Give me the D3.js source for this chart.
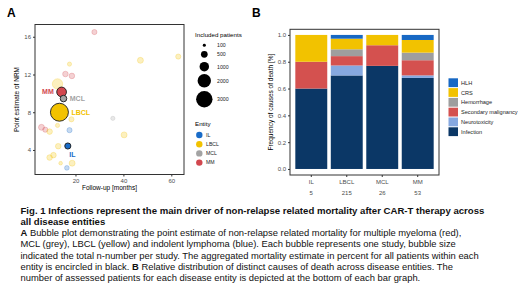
<!DOCTYPE html>
<html>
<head>
<meta charset="utf-8">
<script src="https://cdn.jsdelivr.net/npm/d3@7"></script>
<style>
  body { margin: 0; background: #fff; }
  text { font-family: "Liberation Sans", Arial, sans-serif; }
</style>
</head>
<body>
<div id="chart-area"></div>
<script>
// ---- Panel A data: one entry per study ----
const studyFollowUp = [27.9, 17.5, 47.1, 62.9, 15.8, 18.5, 12.5, 18.3, 35.6, 5.8, 7.4, 9.2, 12.5, 17.5, 40.3, 12.8, 10.8, 9.2, 13.8, 18.6, 16.4]
const studyNRM      = [16.5, 13.1, 13.5, 13.9, 12.05, 11.85, 11.0, 7.25, 7.35, 6.4, 6.15, 5.95, 6.6, 6.1, 5.6, 4.4, 3.45, 3.2, 2.6, 2.6, 2.1]
const studyPatients = [300, 200, 400, 300, 350, 350, 1200, 300, 200, 400, 300, 350, 200, 300, 400, 350, 350, 350, 150, 400, 250]
const studyEntity   = ['MM', 'LBCL', 'LBCL', 'LBCL', 'MM', 'MM', 'LBCL', 'LBCL', 'MCL', 'MM', 'MM', 'LBCL', 'LBCL', 'IL', 'LBCL', 'LBCL', 'LBCL', 'LBCL', 'LBCL', 'LBCL', 'IL']

// aggregated estimate per entity (encircled)
const aggEntity   = ['MM', 'MCL', 'LBCL', 'IL']
const aggFollowUp = [14.2, 15.0, 13.3, 16.8]
const aggNRM      = [10.15, 9.45, 8.0, 4.42]
const aggPatients = [1050, 480, 3600, 420]

const entities = ['IL', 'LBCL', 'MCL', 'MM']
const entityColors = ['#1a6cc8', '#f2c200', '#a3a3a3', '#d2474e']
const sizeLegend = [100, 500, 1000, 2000, 3000]

// ---- Panel B data: deaths by cause ----
const barEntities = ['IL', 'LBCL', 'MCL', 'MM']
const barN = [5, 215, 26, 53]
const causes = ['Infection', 'Neurotoxicity', 'Secondary malignancy', 'Hemorrhage', 'CRS', 'HLH']
const causeColors = ['#0b3766', '#86a8e0', '#d4514f', '#9e9e9e', '#f2c200', '#1768c4']
const infection   = [3, 150, 20, 36]
const neurotox    = [0, 16, 0, 1]
const secMalig    = [1, 15, 4, 6]
const hemorrhage  = [0, 11, 0, 3]
const crs         = [1, 17, 2, 5]
const hlh         = [0, 6, 0, 2]

const svg = d3.select('#chart-area').append('svg')
  .attr('width', 520)
  .attr('height', 302)
svg.append('rect').attr('width', 520).attr('height', 302).attr('fill', '#fff')

const tickGrey = '#4d4d4d'

// ================= Panel A =================
const A = { L: 35, R: 184, T: 24.5, B: 174.5 }
const gA = svg.append('g')

gA.append('text').attr('x', 7).attr('y', 17).text('A')
  .attr('font-size', '12px').attr('font-weight', 'bold')

const xA = d3.scaleLinear().domain([3.1, 65.3]).range([A.L, A.R])
const yA = d3.scaleLinear().domain([1.4, 17.3]).range([A.B, A.T])
const rA = d3.scaleSqrt().domain([0, 3000]).range([0, 8.2])
const color = d3.scaleOrdinal().domain(entities).range(entityColors)

const xAxisA = gA.append('g')
  .attr('transform', `translate(0, ${A.B})`)
  .call(d3.axisBottom(xA).tickValues([20, 40, 60]).tickSize(2).tickPadding(2))
const yAxisA = gA.append('g')
  .attr('transform', `translate(${A.L}, 0)`)
  .call(d3.axisLeft(yA).tickValues([4, 8, 12, 16]).tickSize(2).tickPadding(2))
;[xAxisA, yAxisA].forEach(ax => {
  ax.select('.domain').remove()
  ax.selectAll('line').attr('stroke', '#333')
  ax.selectAll('text').attr('fill', tickGrey).attr('font-size', '6px').attr('font-family', 'Liberation Sans, Arial, sans-serif')
})

const studies = studyFollowUp.map((d, i) => ({ x: d, y: studyNRM[i], n: studyPatients[i], e: studyEntity[i] }))
const aggs = aggEntity.map((e, i) => ({ x: aggFollowUp[i], y: aggNRM[i], n: aggPatients[i], e: e }))

gA.selectAll('circle.study').data(studies).enter().append('circle')
  .attr('class', 'study')
  .attr('cx', d => xA(d.x))
  .attr('cy', d => yA(d.y))
  .attr('r', d => rA(d.n))
  .attr('fill', d => color(d.e))
  .attr('fill-opacity', 0.25)
  .attr('stroke', d => color(d.e))
  .attr('stroke-opacity', 0.3)
  .attr('stroke-width', 0.8)

gA.selectAll('circle.agg').data(aggs).enter().append('circle')
  .attr('class', 'agg')
  .attr('cx', d => xA(d.x))
  .attr('cy', d => yA(d.y))
  .attr('r', d => rA(d.n))
  .attr('fill', d => color(d.e))
  .attr('stroke', '#1a1a1a')
  .attr('stroke-width', 0.9)

// entity labels next to the aggregated bubbles
const labelPos = {
  MM: { dx: -3, dy: 2.5, anchor: 'end', side: -1 },
  MCL: { dx: 3, dy: 2.5, anchor: 'start', side: 1 },
  LBCL: { dx: 3, dy: 2.5, anchor: 'start', side: 1 },
  IL: { dx: 1.5, dy: 11, anchor: 'start', side: 0 }
}
gA.selectAll('text.agg-label').data(aggs).enter().append('text')
  .attr('class', 'agg-label')
  .attr('x', d => xA(d.x) + labelPos[d.e].side * rA(d.n) + labelPos[d.e].dx)
  .attr('y', d => yA(d.y) + labelPos[d.e].dy)
  .attr('text-anchor', d => labelPos[d.e].anchor)
  .attr('font-size', '7px')
  .attr('font-weight', 'bold')
  .attr('fill', d => color(d.e))
  .text(d => d.e)

gA.append('rect')
  .attr('x', A.L).attr('y', A.T)
  .attr('width', A.R - A.L).attr('height', A.B - A.T)
  .attr('fill', 'none').attr('stroke', '#333').attr('stroke-width', 1)

gA.append('text')
  .attr('x', (A.L + A.R) / 2).attr('y', 190)
  .attr('text-anchor', 'middle').attr('font-size', '6.5px')
  .text('Follow-up [months]')
gA.append('text')
  .attr('transform', 'rotate(-90)')
  .attr('x', -(A.T + A.B) / 2).attr('y', 18.5)
  .attr('text-anchor', 'middle').attr('font-size', '6.5px')
  .text('Point estimate of NRM')

// size legend
const legA = gA.append('g')
legA.append('text').attr('x', 195).attr('y', 37).attr('font-size', '6.2px').text('Included patients')
const sizeYs = [45.3, 54.3, 66.7, 80.7, 99.3]
legA.selectAll('circle').data(sizeLegend).enter().append('circle')
  .attr('cx', 204.3)
  .attr('cy', (d, i) => sizeYs[i])
  .attr('r', d => rA(d))
  .attr('fill', '#000')
legA.selectAll('text.sl').data(sizeLegend).enter().append('text')
  .attr('class', 'sl')
  .attr('x', 217).attr('y', (d, i) => sizeYs[i] + 1.8)
  .attr('font-size', '5.2px').attr('fill', '#222')
  .text(d => d)

legA.append('text').attr('x', 195).attr('y', 126).attr('font-size', '6.2px').text('Entity')
legA.selectAll('circle.ent').data(entities).enter().append('circle')
  .attr('class', 'ent')
  .attr('cx', 199.3).attr('cy', (d, i) => 135 + i * 9.2)
  .attr('r', 3.2)
  .attr('fill', d => color(d))
legA.selectAll('text.ent').data(entities).enter().append('text')
  .attr('class', 'ent')
  .attr('x', 206).attr('y', (d, i) => 135 + i * 9.2 + 1.8)
  .attr('font-size', '5.2px').attr('fill', '#222')
  .text(d => d)

// ================= Panel B =================
const B = { L: 290, R: 439, T: 29.3, B: 175 }
const gB = svg.append('g')

gB.append('text').attr('x', 252).attr('y', 17).text('B')
  .attr('font-size', '12px').attr('font-weight', 'bold')

const rows = barEntities.map((e, i) => ({
  entity: e,
  Infection: infection[i],
  Neurotoxicity: neurotox[i],
  'Secondary malignancy': secMalig[i],
  Hemorrhage: hemorrhage[i],
  CRS: crs[i],
  HLH: hlh[i]
}))
const stacked = d3.stack().keys(causes).offset(d3.stackOffsetExpand)(rows)

const xB = d3.scaleBand().domain(barEntities).range([B.L, B.R])
  .paddingInner(0.1).paddingOuter(0.15)
const yB = d3.scaleLinear().domain([-0.045, 1.042]).range([B.B, B.T])
const causeColor = d3.scaleOrdinal().domain(causes).range(causeColors)

gB.selectAll('g.layer').data(stacked).enter().append('g')
  .attr('class', 'layer')
  .attr('fill', d => causeColor(d.key))
  .selectAll('rect').data(d => d).enter().append('rect')
  .attr('x', d => xB(d.data.entity))
  .attr('width', xB.bandwidth())
  .attr('y', d => yB(d[1]))
  .attr('height', d => yB(d[0]) - yB(d[1]))

const yAxisB = gB.append('g')
  .attr('transform', `translate(${B.L}, 0)`)
  .call(d3.axisLeft(yB).tickValues([0, 0.2, 0.4, 0.6, 0.8, 1.0]).tickFormat(d3.format('.1f')).tickSize(2).tickPadding(2))
const xAxisB = gB.append('g')
  .attr('transform', `translate(0, ${B.B})`)
  .call(d3.axisBottom(xB).tickSize(2).tickPadding(3))
;[xAxisB, yAxisB].forEach(ax => {
  ax.select('.domain').remove()
  ax.selectAll('line').attr('stroke', '#333')
  ax.selectAll('text').attr('fill', tickGrey).attr('font-size', '6px').attr('font-family', 'Liberation Sans, Arial, sans-serif')
})
// number of assessed patients below each bar
gB.selectAll('text.nlab').data(barEntities).enter().append('text')
  .attr('class', 'nlab')
  .attr('x', d => xB(d) + xB.bandwidth() / 2)
  .attr('y', 194.5)
  .attr('text-anchor', 'middle').attr('font-size', '6px').attr('fill', tickGrey)
  .text((d, i) => barN[i])

gB.append('rect')
  .attr('x', B.L).attr('y', B.T)
  .attr('width', B.R - B.L).attr('height', B.B - B.T)
  .attr('fill', 'none').attr('stroke', '#333').attr('stroke-width', 1)

gB.append('text')
  .attr('transform', 'rotate(-90)')
  .attr('x', -(B.T + B.B) / 2).attr('y', 273)
  .attr('text-anchor', 'middle').attr('font-size', '6.5px')
  .text('Frequency of causes of death [%]')

// cause legend (top = HLH)
const legendCauses = causes.slice().reverse()
const legB = gB.append('g')
legB.selectAll('rect').data(legendCauses).enter().append('rect')
  .attr('x', 448.5).attr('y', (d, i) => 78.3 + i * 9.8)
  .attr('width', 9.5).attr('height', 8.8)
  .attr('fill', d => causeColor(d))
legB.selectAll('text').data(legendCauses).enter().append('text')
  .attr('x', 461).attr('y', (d, i) => 78.3 + i * 9.8 + 6.5)
  .attr('font-size', '5.6px').attr('fill', '#222')
  .text(d => d)

// ================= Caption =================
const captionLines = [
  [['Fig. 1 Infections represent the main driver of non-relapse related mortality after CAR-T therapy across', true]],
  [['all disease entities', true]],
  [['A', true], [' Bubble plot demonstrating the point estimate of non-relapse related mortality for multiple myeloma (red),', false]],
  [['MCL (grey), LBCL (yellow) and indolent lymphoma (blue). Each bubble represents one study, bubble size', false]],
  [['indicated the total n-number per study. The aggregated mortality estimate in percent for all patients within each', false]],
  [['entity is encircled in black. ', false], ['B', true], [' Relative distribution of distinct causes of death across disease entities. The', false]],
  [['number of assessed patients for each disease entity is depicted at the bottom of each bar graph.', false]]
]
const cap = svg.append('g')
captionLines.forEach((parts, i) => {
  const titleLine = i < 2
  const t = cap.append('text')
    .attr('x', 20.5).attr('y', 213.5 + i * 11.3)
    .attr('font-size', titleLine ? '9.6px' : '9.4px').attr('fill', '#111')
  parts.forEach(p => {
    t.append('tspan').attr('font-weight', p[1] ? 'bold' : 'normal').text(p[0])
  })
})
</script>
</body>
</html>
